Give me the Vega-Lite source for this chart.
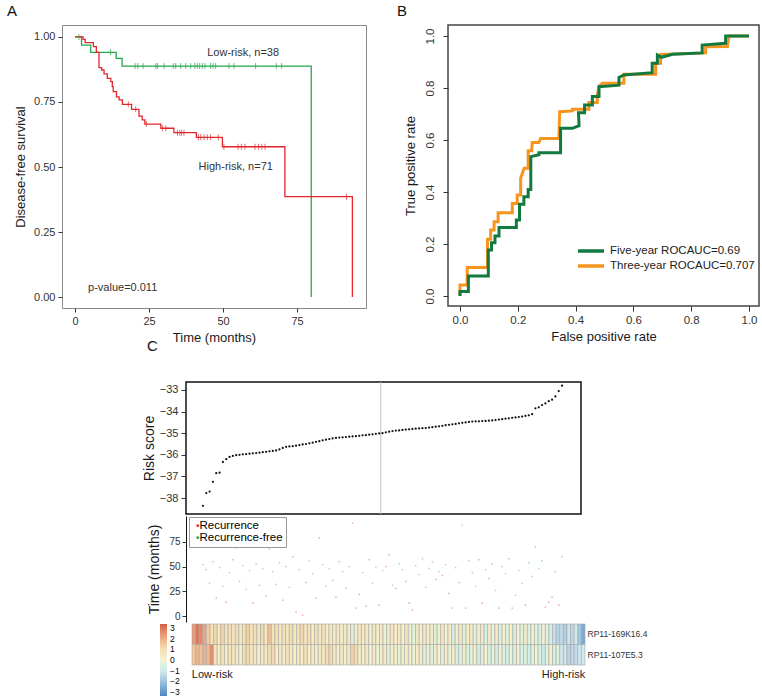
{
  "$schema": "https://vega.github.io/schema/vega-lite/v6.json",
  "padding": {"left": 6, "top": 3, "right": 0, "bottom": 0},
  "autosize": {"type": "pad"},
  "background": "white",
  "config": {
    "view": {"stroke": null},
    "font": "Liberation Sans",
    "axis": {"grid": false, "labelColor": "#333333", "titleColor": "#1a1a1a", "tickColor": "#333333", "domainColor": "#222222", "titleFontWeight": "normal", "labelFont": "Liberation Sans", "titleFont": "Liberation Sans"},
    "title": {"fontWeight": "normal", "font": "Liberation Sans", "fontSize": 15, "anchor": "start", "frame": "group", "color": "#111111", "baseline": "alphabetic"},
    "legend": {"labelFont": "Liberation Sans", "titleFont": "Liberation Sans"}
  },
  "datasets": {
    "km": [
      {"g": "Low-risk", "t": 0, "s": 1}, {"g": "Low-risk", "t": 2.2, "s": 0.969}, {"g": "Low-risk", "t": 5.3, "s": 0.941}, {"g": "Low-risk", "t": 13.9, "s": 0.918}, {"g": "Low-risk", "t": 15.9, "s": 0.888}, {"g": "Low-risk", "t": 79.8, "s": 0},
      {"g": "High-risk", "t": 0, "s": 1}, {"g": "High-risk", "t": 2.7, "s": 0.991}, {"g": "High-risk", "t": 3.4, "s": 0.978}, {"g": "High-risk", "t": 6.2, "s": 0.963}, {"g": "High-risk", "t": 7.2, "s": 0.941}, {"g": "High-risk", "t": 8.1, "s": 0.882}, {"g": "High-risk", "t": 9.0, "s": 0.873}, {"g": "High-risk", "t": 9.8, "s": 0.858}, {"g": "High-risk", "t": 10.9, "s": 0.841}, {"g": "High-risk", "t": 12.1, "s": 0.828}, {"g": "High-risk", "t": 12.6, "s": 0.809}, {"g": "High-risk", "t": 12.9, "s": 0.79}, {"g": "High-risk", "t": 14.0, "s": 0.77}, {"g": "High-risk", "t": 14.9, "s": 0.758}, {"g": "High-risk", "t": 16.0, "s": 0.741}, {"g": "High-risk", "t": 19.1, "s": 0.722}, {"g": "High-risk", "t": 21.6, "s": 0.696}, {"g": "High-risk", "t": 22.7, "s": 0.681}, {"g": "High-risk", "t": 23.6, "s": 0.665}, {"g": "High-risk", "t": 29.0, "s": 0.649}, {"g": "High-risk", "t": 33.4, "s": 0.632}, {"g": "High-risk", "t": 41.0, "s": 0.614}, {"g": "High-risk", "t": 49.8, "s": 0.578}, {"g": "High-risk", "t": 70.9, "s": 0.386}, {"g": "High-risk", "t": 93.7, "s": 0}
    ],
    "cens": [
      {"g": "Low-risk", "t": 1.3, "s": 1}, {"g": "Low-risk", "t": 12.0, "s": 0.941},
      {"g": "Low-risk", "t": 20.3, "s": 0.888}, {"g": "Low-risk", "t": 21.2, "s": 0.888}, {"g": "Low-risk", "t": 23.0, "s": 0.888}, {"g": "Low-risk", "t": 27.3, "s": 0.888}, {"g": "Low-risk", "t": 27.9, "s": 0.888}, {"g": "Low-risk", "t": 30.1, "s": 0.888}, {"g": "Low-risk", "t": 33.2, "s": 0.888}, {"g": "Low-risk", "t": 34.0, "s": 0.888}, {"g": "Low-risk", "t": 35.7, "s": 0.888}, {"g": "Low-risk", "t": 37.4, "s": 0.888}, {"g": "Low-risk", "t": 39.1, "s": 0.888}, {"g": "Low-risk", "t": 40.5, "s": 0.888}, {"g": "Low-risk", "t": 41.3, "s": 0.888}, {"g": "Low-risk", "t": 42.1, "s": 0.888}, {"g": "Low-risk", "t": 43.0, "s": 0.888}, {"g": "Low-risk", "t": 43.9, "s": 0.888}, {"g": "Low-risk", "t": 45.8, "s": 0.888}, {"g": "Low-risk", "t": 46.6, "s": 0.888}, {"g": "Low-risk", "t": 47.5, "s": 0.888}, {"g": "Low-risk", "t": 52.0, "s": 0.888}, {"g": "Low-risk", "t": 53.7, "s": 0.888}, {"g": "Low-risk", "t": 61.0, "s": 0.888}, {"g": "Low-risk", "t": 68.0, "s": 0.888}, {"g": "Low-risk", "t": 69.8, "s": 0.888},
      {"g": "High-risk", "t": 18.0, "s": 0.741}, {"g": "High-risk", "t": 20.5, "s": 0.722}, {"g": "High-risk", "t": 24.1, "s": 0.665}, {"g": "High-risk", "t": 29.6, "s": 0.649}, {"g": "High-risk", "t": 30.7, "s": 0.649}, {"g": "High-risk", "t": 34.6, "s": 0.632}, {"g": "High-risk", "t": 35.4, "s": 0.632}, {"g": "High-risk", "t": 36.0, "s": 0.632}, {"g": "High-risk", "t": 36.8, "s": 0.632}, {"g": "High-risk", "t": 41.7, "s": 0.614}, {"g": "High-risk", "t": 42.5, "s": 0.614}, {"g": "High-risk", "t": 43.6, "s": 0.614}, {"g": "High-risk", "t": 44.7, "s": 0.614}, {"g": "High-risk", "t": 45.8, "s": 0.614}, {"g": "High-risk", "t": 48.4, "s": 0.614}, {"g": "High-risk", "t": 50.3, "s": 0.578}, {"g": "High-risk", "t": 55.1, "s": 0.578}, {"g": "High-risk", "t": 56.2, "s": 0.578}, {"g": "High-risk", "t": 57.4, "s": 0.578}, {"g": "High-risk", "t": 60.8, "s": 0.578}, {"g": "High-risk", "t": 62.0, "s": 0.578}, {"g": "High-risk", "t": 63.1, "s": 0.578}, {"g": "High-risk", "t": 64.2, "s": 0.578}, {"g": "High-risk", "t": 91.7, "s": 0.386}
    ],
    "roc": [
      {"m": "Three-year ROCAUC=0.707", "k": 1, "fpr": 0, "tpr": 0}, {"m": "Three-year ROCAUC=0.707", "k": 2, "fpr": 0, "tpr": 0.042}, {"m": "Three-year ROCAUC=0.707", "k": 3, "fpr": 0.025, "tpr": 0.042}, {"m": "Three-year ROCAUC=0.707", "k": 4, "fpr": 0.025, "tpr": 0.11}, {"m": "Three-year ROCAUC=0.707", "k": 5, "fpr": 0.095, "tpr": 0.11}, {"m": "Three-year ROCAUC=0.707", "k": 6, "fpr": 0.095, "tpr": 0.218}, {"m": "Three-year ROCAUC=0.707", "k": 7, "fpr": 0.106, "tpr": 0.218}, {"m": "Three-year ROCAUC=0.707", "k": 8, "fpr": 0.106, "tpr": 0.254}, {"m": "Three-year ROCAUC=0.707", "k": 9, "fpr": 0.118, "tpr": 0.254}, {"m": "Three-year ROCAUC=0.707", "k": 10, "fpr": 0.118, "tpr": 0.286}, {"m": "Three-year ROCAUC=0.707", "k": 11, "fpr": 0.132, "tpr": 0.286}, {"m": "Three-year ROCAUC=0.707", "k": 12, "fpr": 0.132, "tpr": 0.32}, {"m": "Three-year ROCAUC=0.707", "k": 13, "fpr": 0.181, "tpr": 0.32}, {"m": "Three-year ROCAUC=0.707", "k": 14, "fpr": 0.181, "tpr": 0.356}, {"m": "Three-year ROCAUC=0.707", "k": 15, "fpr": 0.198, "tpr": 0.356}, {"m": "Three-year ROCAUC=0.707", "k": 16, "fpr": 0.198, "tpr": 0.388}, {"m": "Three-year ROCAUC=0.707", "k": 17, "fpr": 0.21, "tpr": 0.388}, {"m": "Three-year ROCAUC=0.707", "k": 18, "fpr": 0.21, "tpr": 0.453}, {"m": "Three-year ROCAUC=0.707", "k": 19, "fpr": 0.222, "tpr": 0.491}, {"m": "Three-year ROCAUC=0.707", "k": 20, "fpr": 0.236, "tpr": 0.491}, {"m": "Three-year ROCAUC=0.707", "k": 21, "fpr": 0.236, "tpr": 0.559}, {"m": "Three-year ROCAUC=0.707", "k": 22, "fpr": 0.248, "tpr": 0.559}, {"m": "Three-year ROCAUC=0.707", "k": 23, "fpr": 0.25, "tpr": 0.59}, {"m": "Three-year ROCAUC=0.707", "k": 24, "fpr": 0.273, "tpr": 0.59}, {"m": "Three-year ROCAUC=0.707", "k": 25, "fpr": 0.279, "tpr": 0.606}, {"m": "Three-year ROCAUC=0.707", "k": 26, "fpr": 0.342, "tpr": 0.606}, {"m": "Three-year ROCAUC=0.707", "k": 27, "fpr": 0.345, "tpr": 0.709}, {"m": "Three-year ROCAUC=0.707", "k": 28, "fpr": 0.389, "tpr": 0.712}, {"m": "Three-year ROCAUC=0.707", "k": 29, "fpr": 0.389, "tpr": 0.718}, {"m": "Three-year ROCAUC=0.707", "k": 30, "fpr": 0.446, "tpr": 0.718}, {"m": "Three-year ROCAUC=0.707", "k": 31, "fpr": 0.446, "tpr": 0.744}, {"m": "Three-year ROCAUC=0.707", "k": 32, "fpr": 0.475, "tpr": 0.744}, {"m": "Three-year ROCAUC=0.707", "k": 33, "fpr": 0.475, "tpr": 0.773}, {"m": "Three-year ROCAUC=0.707", "k": 34, "fpr": 0.481, "tpr": 0.805}, {"m": "Three-year ROCAUC=0.707", "k": 35, "fpr": 0.492, "tpr": 0.818}, {"m": "Three-year ROCAUC=0.707", "k": 36, "fpr": 0.567, "tpr": 0.818}, {"m": "Three-year ROCAUC=0.707", "k": 37, "fpr": 0.567, "tpr": 0.853}, {"m": "Three-year ROCAUC=0.707", "k": 38, "fpr": 0.677, "tpr": 0.853}, {"m": "Three-year ROCAUC=0.707", "k": 39, "fpr": 0.677, "tpr": 0.895}, {"m": "Three-year ROCAUC=0.707", "k": 40, "fpr": 0.694, "tpr": 0.895}, {"m": "Three-year ROCAUC=0.707", "k": 41, "fpr": 0.694, "tpr": 0.929}, {"m": "Three-year ROCAUC=0.707", "k": 42, "fpr": 0.85, "tpr": 0.935}, {"m": "Three-year ROCAUC=0.707", "k": 43, "fpr": 0.85, "tpr": 0.959}, {"m": "Three-year ROCAUC=0.707", "k": 44, "fpr": 0.925, "tpr": 0.96}, {"m": "Three-year ROCAUC=0.707", "k": 45, "fpr": 0.931, "tpr": 1.0}, {"m": "Three-year ROCAUC=0.707", "k": 46, "fpr": 1.0, "tpr": 1.0},
      {"m": "Five-year ROCAUC=0.69", "k": 1, "fpr": 0, "tpr": 0}, {"m": "Five-year ROCAUC=0.69", "k": 2, "fpr": 0, "tpr": 0.017}, {"m": "Five-year ROCAUC=0.69", "k": 3, "fpr": 0.029, "tpr": 0.017}, {"m": "Five-year ROCAUC=0.69", "k": 4, "fpr": 0.029, "tpr": 0.077}, {"m": "Five-year ROCAUC=0.69", "k": 5, "fpr": 0.098, "tpr": 0.077}, {"m": "Five-year ROCAUC=0.69", "k": 6, "fpr": 0.098, "tpr": 0.177}, {"m": "Five-year ROCAUC=0.69", "k": 7, "fpr": 0.109, "tpr": 0.177}, {"m": "Five-year ROCAUC=0.69", "k": 8, "fpr": 0.109, "tpr": 0.205}, {"m": "Five-year ROCAUC=0.69", "k": 9, "fpr": 0.121, "tpr": 0.205}, {"m": "Five-year ROCAUC=0.69", "k": 10, "fpr": 0.121, "tpr": 0.231}, {"m": "Five-year ROCAUC=0.69", "k": 11, "fpr": 0.135, "tpr": 0.231}, {"m": "Five-year ROCAUC=0.69", "k": 12, "fpr": 0.135, "tpr": 0.263}, {"m": "Five-year ROCAUC=0.69", "k": 13, "fpr": 0.195, "tpr": 0.263}, {"m": "Five-year ROCAUC=0.69", "k": 14, "fpr": 0.195, "tpr": 0.292}, {"m": "Five-year ROCAUC=0.69", "k": 15, "fpr": 0.206, "tpr": 0.292}, {"m": "Five-year ROCAUC=0.69", "k": 16, "fpr": 0.206, "tpr": 0.353}, {"m": "Five-year ROCAUC=0.69", "k": 17, "fpr": 0.221, "tpr": 0.353}, {"m": "Five-year ROCAUC=0.69", "k": 18, "fpr": 0.221, "tpr": 0.382}, {"m": "Five-year ROCAUC=0.69", "k": 19, "fpr": 0.236, "tpr": 0.382}, {"m": "Five-year ROCAUC=0.69", "k": 20, "fpr": 0.236, "tpr": 0.41}, {"m": "Five-year ROCAUC=0.69", "k": 21, "fpr": 0.245, "tpr": 0.41}, {"m": "Five-year ROCAUC=0.69", "k": 22, "fpr": 0.245, "tpr": 0.536}, {"m": "Five-year ROCAUC=0.69", "k": 23, "fpr": 0.273, "tpr": 0.543}, {"m": "Five-year ROCAUC=0.69", "k": 24, "fpr": 0.273, "tpr": 0.551}, {"m": "Five-year ROCAUC=0.69", "k": 25, "fpr": 0.348, "tpr": 0.551}, {"m": "Five-year ROCAUC=0.69", "k": 26, "fpr": 0.348, "tpr": 0.645}, {"m": "Five-year ROCAUC=0.69", "k": 27, "fpr": 0.389, "tpr": 0.645}, {"m": "Five-year ROCAUC=0.69", "k": 28, "fpr": 0.412, "tpr": 0.655}, {"m": "Five-year ROCAUC=0.69", "k": 29, "fpr": 0.41, "tpr": 0.705}, {"m": "Five-year ROCAUC=0.69", "k": 30, "fpr": 0.431, "tpr": 0.705}, {"m": "Five-year ROCAUC=0.69", "k": 31, "fpr": 0.431, "tpr": 0.735}, {"m": "Five-year ROCAUC=0.69", "k": 32, "fpr": 0.458, "tpr": 0.735}, {"m": "Five-year ROCAUC=0.69", "k": 33, "fpr": 0.458, "tpr": 0.767}, {"m": "Five-year ROCAUC=0.69", "k": 34, "fpr": 0.481, "tpr": 0.767}, {"m": "Five-year ROCAUC=0.69", "k": 35, "fpr": 0.481, "tpr": 0.805}, {"m": "Five-year ROCAUC=0.69", "k": 36, "fpr": 0.55, "tpr": 0.811}, {"m": "Five-year ROCAUC=0.69", "k": 37, "fpr": 0.55, "tpr": 0.841}, {"m": "Five-year ROCAUC=0.69", "k": 38, "fpr": 0.567, "tpr": 0.85}, {"m": "Five-year ROCAUC=0.69", "k": 39, "fpr": 0.665, "tpr": 0.859}, {"m": "Five-year ROCAUC=0.69", "k": 40, "fpr": 0.665, "tpr": 0.895}, {"m": "Five-year ROCAUC=0.69", "k": 41, "fpr": 0.683, "tpr": 0.895}, {"m": "Five-year ROCAUC=0.69", "k": 42, "fpr": 0.683, "tpr": 0.927}, {"m": "Five-year ROCAUC=0.69", "k": 43, "fpr": 0.697, "tpr": 0.918}, {"m": "Five-year ROCAUC=0.69", "k": 44, "fpr": 0.735, "tpr": 0.93}, {"m": "Five-year ROCAUC=0.69", "k": 45, "fpr": 0.838, "tpr": 0.935}, {"m": "Five-year ROCAUC=0.69", "k": 46, "fpr": 0.838, "tpr": 0.965}, {"m": "Five-year ROCAUC=0.69", "k": 47, "fpr": 0.919, "tpr": 0.972}, {"m": "Five-year ROCAUC=0.69", "k": 48, "fpr": 0.919, "tpr": 1.0}, {"m": "Five-year ROCAUC=0.69", "k": 49, "fpr": 1.0, "tpr": 1.0}
    ],
    "p": [
      {"i": 1, "r": -38.36, "t": 52, "st": "Recurrence-free", "g1": 2.4, "g2": 1.6},
      {"i": 2, "r": -37.77, "t": 47, "st": "Recurrence-free", "g1": 3.0, "g2": 1.9},
      {"i": 3, "r": -37.70, "t": 33, "st": "Recurrence-free", "g1": 2.7, "g2": 1.7},
      {"i": 4, "r": -37.25, "t": 55, "st": "Recurrence-free", "g1": 2.2, "g2": 2.0},
      {"i": 5, "r": -36.85, "t": 18, "st": "Recurrence-free", "g1": 1.4, "g2": 1.8},
      {"i": 6, "r": -36.83, "t": 49, "st": "Recurrence-free", "g1": 0.8, "g2": 2.6},
      {"i": 7, "r": -36.33, "t": 30, "st": "Recurrence-free", "g1": 1.2, "g2": 0.6},
      {"i": 8, "r": -36.20, "t": 14, "st": "Recurrence", "g1": 0.6, "g2": 0.4},
      {"i": 9, "r": -36.10, "t": 44, "st": "Recurrence-free", "g1": 1.3, "g2": 0.7},
      {"i": 10, "r": -36.05, "t": 57, "st": "Recurrence-free", "g1": 0.7, "g2": 0.3},
      {"i": 11, "r": -36.02, "t": 69, "st": "Recurrence-free", "g1": 1.0, "g2": 0.8},
      {"i": 12, "r": -36.00, "t": 35, "st": "Recurrence-free", "g1": 0.5, "g2": 0.5},
      {"i": 13, "r": -35.98, "t": 51, "st": "Recurrence-free", "g1": 1.1, "g2": 0.6},
      {"i": 14, "r": -35.97, "t": 27, "st": "Recurrence-free", "g1": 0.6, "g2": 0.2},
      {"i": 15, "r": -35.95, "t": 46, "st": "Recurrence-free", "g1": 0.9, "g2": 0.9},
      {"i": 16, "r": -35.93, "t": 13, "st": "Recurrence", "g1": 1.4, "g2": 1.2},
      {"i": 17, "r": -35.92, "t": 53, "st": "Recurrence-free", "g1": 0.5, "g2": 0.4},
      {"i": 18, "r": -35.90, "t": 31, "st": "Recurrence-free", "g1": 1.0, "g2": 0.7},
      {"i": 19, "r": -35.88, "t": 48, "st": "Recurrence-free", "g1": 0.7, "g2": 0.3},
      {"i": 20, "r": -35.86, "t": 20, "st": "Recurrence-free", "g1": 1.2, "g2": 0.6},
      {"i": 21, "r": -35.84, "t": 68, "st": "Recurrence-free", "g1": 0.6, "g2": 0.5},
      {"i": 22, "r": -35.82, "t": 45, "st": "Recurrence-free", "g1": 1.7, "g2": 0.9},
      {"i": 23, "r": -35.80, "t": 32, "st": "Recurrence-free", "g1": 0.8, "g2": 1.2},
      {"i": 24, "r": -35.75, "t": 54, "st": "Recurrence-free", "g1": 1.0, "g2": 0.4},
      {"i": 25, "r": -35.68, "t": 16, "st": "Recurrence-free", "g1": 0.5, "g2": 0.6},
      {"i": 26, "r": -35.63, "t": 50, "st": "Recurrence-free", "g1": 0.9, "g2": 0.3},
      {"i": 27, "r": -35.61, "t": 29, "st": "Recurrence-free", "g1": 0.6, "g2": 0.7},
      {"i": 28, "r": -35.60, "t": 60, "st": "Recurrence-free", "g1": 1.1, "g2": 0.5},
      {"i": 29, "r": -35.58, "t": 4, "st": "Recurrence", "g1": 0.5, "g2": 0.2},
      {"i": 30, "r": -35.55, "t": 47, "st": "Recurrence-free", "g1": 0.8, "g2": 0.6},
      {"i": 31, "r": -35.52, "t": 1, "st": "Recurrence", "g1": 1.2, "g2": 0.4},
      {"i": 32, "r": -35.50, "t": 34, "st": "Recurrence-free", "g1": 0.6, "g2": 0.8},
      {"i": 33, "r": -35.47, "t": 56, "st": "Recurrence-free", "g1": 0.9, "g2": 0.3},
      {"i": 34, "r": -35.44, "t": 43, "st": "Recurrence-free", "g1": 0.4, "g2": 0.5},
      {"i": 35, "r": -35.40, "t": 18, "st": "Recurrence-free", "g1": 0.8, "g2": 0.2},
      {"i": 36, "r": -35.37, "t": 79, "st": "Recurrence", "g1": 0.5, "g2": 0.6},
      {"i": 37, "r": -35.33, "t": 52, "st": "Recurrence-free", "g1": 0.7, "g2": 0.4},
      {"i": 38, "r": -35.30, "t": 30, "st": "Recurrence-free", "g1": 0.3, "g2": 1.0},
      {"i": 39, "r": -35.27, "t": 48, "st": "Recurrence-free", "g1": 0.6, "g2": 1.2},
      {"i": 40, "r": -35.24, "t": 36, "st": "Recurrence-free", "g1": 0.4, "g2": 0.5},
      {"i": 41, "r": -35.22, "t": 19, "st": "Recurrence", "g1": 0.7, "g2": 0.3},
      {"i": 42, "r": -35.20, "t": 55, "st": "Recurrence-free", "g1": 0.2, "g2": 0.6},
      {"i": 43, "r": -35.19, "t": 45, "st": "Recurrence-free", "g1": 0.5, "g2": 0.2},
      {"i": 44, "r": -35.18, "t": 28, "st": "Recurrence-free", "g1": 0.6, "g2": 0.5},
      {"i": 45, "r": -35.16, "t": 50, "st": "Recurrence-free", "g1": -0.4, "g2": 1.3},
      {"i": 46, "r": -35.15, "t": 94, "st": "Recurrence", "g1": 0.3, "g2": 1.1},
      {"i": 47, "r": -35.14, "t": 8, "st": "Recurrence", "g1": 0.6, "g2": 0.4},
      {"i": 48, "r": -35.12, "t": 22, "st": "Recurrence", "g1": 0.4, "g2": 0.2},
      {"i": 49, "r": -35.10, "t": 44, "st": "Recurrence-free", "g1": 0.5, "g2": 0.5},
      {"i": 50, "r": -35.09, "t": 10, "st": "Recurrence", "g1": 0.2, "g2": 0.1},
      {"i": 51, "r": -35.07, "t": 57, "st": "Recurrence-free", "g1": 0.6, "g2": 0.4},
      {"i": 52, "r": -35.05, "t": 33, "st": "Recurrence-free", "g1": 0.3, "g2": -0.2},
      {"i": 53, "r": -35.03, "t": 49, "st": "Recurrence-free", "g1": 0.5, "g2": 0.3},
      {"i": 54, "r": -35.01, "t": 11, "st": "Recurrence", "g1": -0.2, "g2": 0.5},
      {"i": 55, "r": -35.00, "t": 46, "st": "Recurrence-free", "g1": 0.4, "g2": -0.4},
      {"i": 56, "r": -34.96, "t": 50, "st": "Recurrence", "g1": 0.6, "g2": 0.2},
      {"i": 57, "r": -34.93, "t": 62, "st": "Recurrence-free", "g1": 0.3, "g2": 0.4},
      {"i": 58, "r": -34.90, "t": 31, "st": "Recurrence-free", "g1": 0.5, "g2": -0.3},
      {"i": 59, "r": -34.88, "t": 28, "st": "Recurrence", "g1": 0.1, "g2": 0.3},
      {"i": 60, "r": -34.87, "t": 53, "st": "Recurrence-free", "g1": 0.6, "g2": 0.1},
      {"i": 61, "r": -34.85, "t": 47, "st": "Recurrence-free", "g1": 0.4, "g2": 0.4},
      {"i": 62, "r": -34.83, "t": 35, "st": "Recurrence-free", "g1": -0.3, "g2": -0.2},
      {"i": 63, "r": -34.82, "t": 13, "st": "Recurrence", "g1": 0.5, "g2": 0.3},
      {"i": 64, "r": -34.80, "t": 6, "st": "Recurrence", "g1": 0.3, "g2": 0.5},
      {"i": 65, "r": -34.79, "t": 51, "st": "Recurrence-free", "g1": 0.6, "g2": -0.4},
      {"i": 66, "r": -34.78, "t": 42, "st": "Recurrence-free", "g1": 0.2, "g2": 0.2},
      {"i": 67, "r": -34.77, "t": 58, "st": "Recurrence-free", "g1": 0.4, "g2": -0.5},
      {"i": 68, "r": -34.76, "t": 29, "st": "Recurrence-free", "g1": -0.4, "g2": 0.3},
      {"i": 69, "r": -34.74, "t": 48, "st": "Recurrence-free", "g1": 0.3, "g2": 0.1},
      {"i": 70, "r": -34.72, "t": 55, "st": "Recurrence-free", "g1": 0.5, "g2": -0.3},
      {"i": 71, "r": -34.70, "t": 37, "st": "Recurrence-free", "g1": 0.1, "g2": 0.4},
      {"i": 72, "r": -34.68, "t": 45, "st": "Recurrence-free", "g1": 0.4, "g2": -0.2},
      {"i": 73, "r": -34.66, "t": 41, "st": "Recurrence", "g1": -0.5, "g2": 0.2},
      {"i": 74, "r": -34.63, "t": 52, "st": "Recurrence-free", "g1": 0.3, "g2": -0.6},
      {"i": 75, "r": -34.61, "t": 23, "st": "Recurrence", "g1": 0.5, "g2": -0.3},
      {"i": 76, "r": -34.59, "t": 8, "st": "Recurrence", "g1": -0.3, "g2": 0.2},
      {"i": 77, "r": -34.57, "t": 49, "st": "Recurrence-free", "g1": 0.4, "g2": -0.5},
      {"i": 78, "r": -34.54, "t": 34, "st": "Recurrence", "g1": 0.6, "g2": -0.2},
      {"i": 79, "r": -34.52, "t": 92, "st": "Recurrence-free", "g1": -0.4, "g2": 0.3},
      {"i": 80, "r": -34.50, "t": 8, "st": "Recurrence", "g1": 0.2, "g2": -0.6},
      {"i": 81, "r": -34.48, "t": 56, "st": "Recurrence-free", "g1": 0.5, "g2": -0.4},
      {"i": 82, "r": -34.46, "t": 44, "st": "Recurrence-free", "g1": -0.6, "g2": 0.1},
      {"i": 83, "r": -34.45, "t": 30, "st": "Recurrence-free", "g1": 0.3, "g2": -0.5},
      {"i": 84, "r": -34.45, "t": 57, "st": "Recurrence-free", "g1": -0.2, "g2": -0.3},
      {"i": 85, "r": -34.44, "t": 13, "st": "Recurrence", "g1": 0.4, "g2": -0.7},
      {"i": 86, "r": -34.43, "t": 47, "st": "Recurrence-free", "g1": -0.5, "g2": 0.1},
      {"i": 87, "r": -34.42, "t": 38, "st": "Recurrence-free", "g1": 0.2, "g2": -0.4},
      {"i": 88, "r": -34.41, "t": 53, "st": "Recurrence-free", "g1": -0.3, "g2": -0.6},
      {"i": 89, "r": -34.39, "t": 26, "st": "Recurrence-free", "g1": 0.3, "g2": -0.2},
      {"i": 90, "r": -34.37, "t": 8, "st": "Recurrence", "g1": -0.6, "g2": -0.5},
      {"i": 91, "r": -34.35, "t": 50, "st": "Recurrence-free", "g1": 0.1, "g2": 0.2},
      {"i": 92, "r": -34.33, "t": 43, "st": "Recurrence-free", "g1": -0.4, "g2": -0.6},
      {"i": 93, "r": -34.31, "t": 58, "st": "Recurrence-free", "g1": 0.3, "g2": -0.3},
      {"i": 94, "r": -34.29, "t": 8, "st": "Recurrence", "g1": -0.5, "g2": -0.7},
      {"i": 95, "r": -34.27, "t": 21, "st": "Recurrence", "g1": 0.2, "g2": -0.4},
      {"i": 96, "r": -34.25, "t": 46, "st": "Recurrence-free", "g1": -0.3, "g2": 0.1},
      {"i": 97, "r": -34.23, "t": 33, "st": "Recurrence-free", "g1": -0.6, "g2": -0.5},
      {"i": 98, "r": -34.20, "t": 11, "st": "Recurrence", "g1": 0.1, "g2": -0.8},
      {"i": 99, "r": -34.17, "t": 54, "st": "Recurrence-free", "g1": -0.4, "g2": -0.3},
      {"i": 100, "r": -34.12, "t": 40, "st": "Recurrence-free", "g1": -0.7, "g2": 0.2},
      {"i": 101, "r": -33.85, "t": 70, "st": "Recurrence", "g1": -1.3, "g2": -0.6},
      {"i": 102, "r": -33.80, "t": 48, "st": "Recurrence-free", "g1": -1.6, "g2": -0.4},
      {"i": 103, "r": -33.70, "t": 56, "st": "Recurrence-free", "g1": -1.4, "g2": -0.9},
      {"i": 104, "r": -33.62, "t": 9, "st": "Recurrence", "g1": -1.7, "g2": -1.2},
      {"i": 105, "r": -33.52, "t": 14, "st": "Recurrence", "g1": -1.2, "g2": -1.6},
      {"i": 106, "r": -33.45, "t": 19, "st": "Recurrence", "g1": -1.5, "g2": -1.5},
      {"i": 107, "r": -33.30, "t": 45, "st": "Recurrence-free", "g1": -0.9, "g2": -1.4},
      {"i": 108, "r": -33.05, "t": 11, "st": "Recurrence", "g1": -1.9, "g2": -1.1},
      {"i": 109, "r": -32.80, "t": 60, "st": "Recurrence-free", "g1": -2.6, "g2": -0.8}
    ]
  },
  "spacing": -8,
  "resolve": {"scale": {"color": "independent"}, "legend": {"color": "independent"}},
  "vconcat": [
    {
      "bounds": "flush",
      "spacing": 82,
      "resolve": {"scale": {"color": "independent"}, "legend": {"color": "independent"}},
      "hconcat": [
        {
          "width": 304, "height": 283,
          "title": {"text": "A", "dx": -55, "offset": 6},
          "view": {"stroke": "#8a8a8a", "strokeWidth": 1},
          "layer": [
            {
              "data": {"name": "km"},
              "mark": {"type": "line", "interpolate": "step-after", "strokeWidth": 1.3},
              "encoding": {
                "x": {"field": "t", "type": "quantitative", "scale": {"domain": [-4.4, 98.3], "nice": false, "zero": false},
                      "axis": {"values": [0, 25, 50, 75], "domain": false, "tickSize": 4, "labelFontSize": 11, "labelPadding": 3, "title": "Time (months)", "titleFontSize": 13, "titlePadding": 5}},
                "y": {"field": "s", "type": "quantitative", "scale": {"domain": [-0.042, 1.046], "nice": false, "zero": false},
                      "axis": {"values": [0, 0.25, 0.5, 0.75, 1], "format": ".2f", "domain": false, "tickSize": 4, "labelFontSize": 11, "labelPadding": 3, "title": "Disease-free survival", "titleFontSize": 13, "titlePadding": 6}},
                "color": {"field": "g", "type": "nominal", "scale": {"domain": ["Low-risk", "High-risk"], "range": ["#24A84B", "#E2262D"]}, "legend": null}
              }
            },
            {
              "data": {"name": "cens"},
              "mark": {"type": "tick", "orient": "vertical", "size": 6, "thickness": 1},
              "encoding": {
                "x": {"field": "t", "type": "quantitative"},
                "y": {"field": "s", "type": "quantitative"},
                "color": {"field": "g", "type": "nominal"}
              }
            },
            {
              "data": {"values": [{}]},
              "mark": {"type": "text", "text": "Low-risk, n=38", "fontSize": 11, "color": "#333333"},
              "encoding": {"x": {"datum": 56.8, "type": "quantitative"}, "y": {"datum": 0.938, "type": "quantitative"}}
            },
            {
              "data": {"values": [{}]},
              "mark": {"type": "text", "text": "High-risk, n=71", "fontSize": 11, "color": "#333333"},
              "encoding": {"x": {"datum": 54.3, "type": "quantitative"}, "y": {"datum": 0.5, "type": "quantitative"}}
            },
            {
              "data": {"values": [{}]},
              "mark": {"type": "text", "text": "p-value=0.011", "fontSize": 11, "color": "#333333", "align": "left"},
              "encoding": {"x": {"datum": 4.4, "type": "quantitative"}, "y": {"datum": 0.035, "type": "quantitative"}}
            }
          ]
        },
        {
          "width": 311, "height": 281,
          "title": {"text": "B", "dx": -51, "offset": 6},
          "view": {"stroke": "#444444", "strokeWidth": 1.5},
          "data": {"name": "roc"},
          "mark": {"type": "line", "strokeWidth": 3, "strokeCap": "butt"},
          "encoding": {
            "x": {"field": "fpr", "type": "quantitative", "scale": {"domain": [-0.0415, 1.0346], "nice": false, "zero": false},
                  "axis": {"values": [0, 0.2, 0.4, 0.6, 0.8, 1], "format": ".1f", "domain": false, "tickSize": 5, "labelFontSize": 11.5, "labelPadding": 3, "title": "False positive rate", "titleFontSize": 13, "titlePadding": 5}},
            "y": {"field": "tpr", "type": "quantitative", "scale": {"domain": [-0.0385, 1.0423], "nice": false, "zero": false},
                  "axis": {"values": [0, 0.2, 0.4, 0.6, 0.8, 1], "format": ".1f", "domain": false, "tickSize": 5, "labelFontSize": 11.5, "labelPadding": 8, "labelAngle": -90, "labelAlign": "center", "labelBaseline": "bottom", "title": "True positive rate", "titleFontSize": 13, "titlePadding": 7}},
            "color": {"field": "m", "type": "nominal", "scale": {"domain": ["Five-year ROCAUC=0.69", "Three-year ROCAUC=0.707"], "range": ["#137A3F", "#F7941E"]},
                      "legend": {"orient": "none", "legendX": 136, "legendY": 219, "title": null, "symbolType": "M-2.6,0H2.6", "symbolSize": 100, "symbolStrokeWidth": 3.5, "labelFontSize": 11.5, "labelLimit": 300, "labelColor": "#222222", "rowPadding": 1, "labelOffset": 12, "padding": 0}},
            "order": {"field": "k", "type": "quantitative"}
          }
        }
      ]
    },
    {
      "bounds": "flush",
      "spacing": 0,
      "resolve": {"scale": {"color": "independent"}, "legend": {"color": "independent"}},
      "hconcat": [
        {"width": 124, "height": 1, "data": {"values": [{"a": 1}]}, "mark": {"type": "text", "text": ""}, "encoding": {}},
        {
          "bounds": "flush",
          "spacing": 2,
          "resolve": {"scale": {"color": "independent"}, "legend": {"color": "independent"}},
          "vconcat": [
            {
              "width": 395, "height": 132,
              "title": {"text": "C", "dx": -39, "offset": 28},
              "view": {"stroke": "#111111", "strokeWidth": 1.5},
              "layer": [
                {
                  "data": {"values": [{}]},
                  "mark": {"type": "rule", "color": "#c4c4c4", "strokeWidth": 1},
                  "encoding": {"x": {"datum": 54.5, "type": "quantitative", "axis": null}}
                },
                {
                  "data": {"name": "p"},
                  "mark": {"type": "circle", "size": 5, "color": "#111111", "opacity": 1},
                  "encoding": {
                    "x": {"field": "i", "type": "quantitative", "scale": {"domain": [-4.1, 114.7], "nice": false, "zero": false}, "axis": null},
                    "y": {"field": "r", "type": "quantitative", "scale": {"domain": [-38.74, -32.63], "nice": false, "zero": false},
                          "axis": {"values": [-38, -37, -36, -35, -34, -33], "domain": false, "tickSize": 5, "labelFontSize": 11, "labelPadding": 3, "title": "Risk score", "titleFontSize": 14, "titlePadding": 3}}
                  }
                }
              ]
            },
            {
              "width": 395, "height": 106,
              "data": {"name": "p"},
              "mark": {"type": "circle", "size": 3, "opacity": 0.4},
              "encoding": {
                "x": {"field": "i", "type": "quantitative", "scale": {"domain": [-4.1, 114.7], "nice": false, "zero": false}, "axis": null},
                "y": {"field": "t", "type": "quantitative", "scale": {"domain": [-6.07, 101.2], "nice": false, "zero": false},
                      "axis": {"values": [0, 25, 50, 75], "tickSize": 4, "labelFontSize": 10, "labelPadding": 2, "title": "Time (months)", "titleFontSize": 14, "titlePadding": 7, "domainColor": "#111111"}},
                "color": {"field": "st", "type": "nominal", "scale": {"domain": ["Recurrence", "Recurrence-free"], "range": ["#E0303A", "#2BA84A"]},
                          "legend": {"orient": "none", "legendX": 3, "legendY": 1, "title": null, "strokeColor": "#999999", "fillColor": "white", "padding": 3, "labelFontSize": 11.5, "symbolSize": 8, "symbolType": "circle", "rowPadding": -1, "labelOffset": -4, "symbolOpacity": 1}}
              }
            },
            {
              "width": 399, "height": 41,
              "data": {"name": "p"},
              "transform": [{"fold": ["g1", "g2"], "as": ["gene", "v"]}],
              "mark": {"type": "rect", "stroke": "#a6a6a6", "strokeWidth": 0.6},
              "encoding": {
                "x": {"field": "i", "type": "ordinal", "scale": {"paddingInner": 0, "paddingOuter": 0.832, "align": 1},
                      "axis": {"values": [1, 109], "labelExpr": "datum.value == 1 ? 'Low-risk' : 'High-risk'",
                               "labelAlign": {"condition": {"test": "datum.value == 1", "value": "left"}, "value": "right"},
                               "labelOffset": {"condition": {"test": "datum.value == 1", "value": -2}, "value": 2},
                               "ticks": false, "domain": false, "labelFontSize": 11, "labelPadding": 3, "labelAngle": 0, "title": null, "labelColor": "#222222"}},
                "y": {"field": "gene", "type": "nominal", "sort": ["g1", "g2"], "scale": {"paddingInner": 0, "paddingOuter": 0},
                      "axis": {"orient": "right", "labelExpr": "datum.value == 'g1' ? 'RP11-169K16.4' : 'RP11-107E5.3'", "ticks": false, "domain": false, "labelFontSize": 8.5, "labelPadding": 2, "title": null}},
                "color": {"field": "v", "type": "quantitative",
                          "scale": {"domain": [-3.4, 3.4], "range": ["#4a87c0", "#8fb9da", "#d4e6ef", "#f7f3d3", "#f6dcae", "#eba27f", "#d45a47"]},
                          "legend": {"orient": "none", "legendX": -26, "legendY": 0, "direction": "vertical", "gradientLength": 72, "gradientThickness": 7, "values": [3, 2, 1, 0, -1, -2, -3], "labelFontSize": 8.5, "labelOffset": 3, "title": null, "gradientStrokeWidth": 0}}
              }
            }
          ]
        }
      ]
    }
  ]
}
